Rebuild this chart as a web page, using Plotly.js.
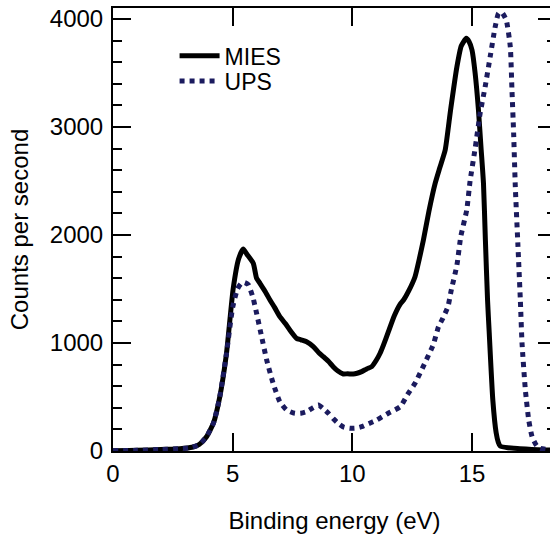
<!DOCTYPE html>
<html>
<head>
<meta charset="utf-8">
<script src="https://cdn.plot.ly/plotly-3.0.1.min.js"></script>
<style>
html, body { margin: 0; padding: 0; overflow: hidden; background: #fff; }
#chart { width: 600px; height: 537px; }
</style>
</head>
<body>
<div id="chart"></div>
<script>
// Binding energy (eV) and counts per second
const miesEnergy = [0, 1, 2, 2.8, 3.3, 3.6, 3.9, 4.2, 4.46, 4.74, 5.02, 5.25, 5.44, 5.6, 5.86, 6.0, 6.14, 6.35, 6.56, 6.75, 6.97, 7.2, 7.39, 7.67, 7.85, 8.09, 8.37, 8.6, 8.79, 9.0, 9.2, 9.4, 9.62, 9.8, 10.04, 10.2, 10.39, 10.6, 10.81, 11.0, 11.16, 11.3, 11.5, 11.75, 12.0, 12.14, 12.35, 12.62, 12.8, 12.97, 13.2, 13.46, 13.65, 13.88, 14.1, 14.37, 14.55, 14.76, 14.88, 15.0, 15.13, 15.27, 15.38, 15.48, 15.56, 15.65, 15.72, 15.87, 16.01, 16.1, 16.18, 16.5, 17.0, 17.5, 18.0, 18.6];
const miesCounts = [3, 6, 15, 22, 35, 60, 130, 260, 500, 900, 1500, 1780, 1870, 1820, 1738, 1600, 1553, 1480, 1398, 1330, 1244, 1180, 1120, 1043, 1030, 1012, 966, 910, 873, 830, 781, 740, 713, 715, 713, 720, 735, 760, 781, 840, 905, 980, 1100, 1250, 1360, 1398, 1480, 1614, 1780, 1954, 2220, 2478, 2620, 2787, 3150, 3558, 3750, 3821, 3790, 3713, 3500, 3157, 2800, 2478, 1950, 1398, 1093, 472, 167, 80, 45, 30, 22, 15, 10, 6];

const upsEnergy = [0, 1, 2, 2.8, 3.3, 3.6, 3.9, 4.2, 4.46, 4.74, 5.0, 5.2, 5.35, 5.5, 5.65, 5.85, 6.0, 6.21, 6.42, 6.69, 6.97, 7.25, 7.6, 7.85, 8.09, 8.35, 8.58, 8.8, 9.0, 9.2, 9.41, 9.65, 9.9, 10.15, 10.39, 10.7, 11.02, 11.5, 12.0, 12.3, 12.62, 13.0, 13.39, 13.6, 13.78, 14.0, 14.12, 14.37, 14.53, 14.78, 14.92, 15.13, 15.34, 15.55, 15.76, 15.97, 16.11, 16.25, 16.43, 16.6, 16.67, 16.74, 16.81, 16.92, 17.02, 17.09, 17.23, 17.37, 17.51, 17.7, 17.85, 18.2, 18.6];
const upsCounts = [3, 6, 14, 22, 33, 60, 130, 260, 500, 900, 1330, 1500, 1550, 1560, 1540, 1420, 1275, 1059, 843, 627, 457, 380, 349, 350, 364, 400, 426, 390, 349, 300, 256, 220, 210, 212, 225, 255, 287, 350, 410, 520, 627, 800, 990, 1150, 1228, 1340, 1475, 1722, 1984, 2231, 2500, 2800, 3127, 3373, 3651, 3929, 4053, 4060, 3991, 3744, 3343, 2941, 2447, 1900, 1398, 1000, 565, 287, 132, 50, 25, 12, 8];

const seriesNames = ['MIES', 'UPS'];
const xTickVals = [0, 5, 10, 15];
const yTickVals = [0, 1000, 2000, 3000, 4000];

const FONT = '"Liberation Sans", Arial, Helvetica, sans-serif';

const traces = [
  {
    x: miesEnergy, y: miesCounts, name: seriesNames[0], type: 'scatter', mode: 'lines',
    line: { color: '#000000', width: 5, shape: 'spline', smoothing: 0.5 },
    legend: 'legend'
  },
  {
    x: upsEnergy, y: upsCounts, name: seriesNames[1], type: 'scatter', mode: 'lines',
    line: { color: '#1b1b5e', width: 5, dash: 'dot', shape: 'spline', smoothing: 0.5 },
    legend: 'legend2'
  }
];

const axisCommon = {
  showline: true, linecolor: '#000', linewidth: 2, mirror: 'ticks',
  ticks: 'inside', ticklen: 18, tickwidth: 2, tickcolor: '#000',
  showgrid: false, zeroline: false,
  tickfont: { family: FONT, size: 24, color: '#000' }
};

const layout = {
  width: 600, height: 537,
  margin: { l: 113, r: 44, t: 8, b: 86 },
  paper_bgcolor: '#fff', plot_bgcolor: '#fff',
  font: { family: FONT, size: 24, color: '#000' },
  xaxis: Object.assign({}, axisCommon, {
    range: [0, 18.51], tickvals: xTickVals, ticktext: xTickVals.map(String),
    title: { text: 'Binding energy (eV)', font: { family: FONT, size: 24, color: '#000' }, standoff: 26 }
  }),
  yaxis: Object.assign({}, axisCommon, {
    range: [0, 4102], tickvals: yTickVals, ticktext: yTickVals.map(String),
    ticklabelstandoff: 3,
    minor: { ticks: 'inside', ticklen: 9, tickwidth: 2, tickcolor: '#000', dtick: 200 },
    title: { text: 'Counts per second', font: { family: FONT, size: 24, color: '#000' }, standoff: 14 }
  }),
  showlegend: true,
  legend: {
    x: 0.139, y: 0.892, xanchor: 'left', yanchor: 'middle',
    bgcolor: 'rgba(0,0,0,0)', borderwidth: 0, itemwidth: 40,
    font: { family: FONT, size: 23, color: '#000' }
  },
  legend2: {
    x: 0.139, y: 0.835, xanchor: 'left', yanchor: 'middle',
    bgcolor: 'rgba(0,0,0,0)', borderwidth: 0, itemwidth: 40,
    font: { family: FONT, size: 23, color: '#000' }
  }
};

Plotly.newPlot('chart', traces, layout, { displayModeBar: false, staticPlot: true });
</script>
</body>
</html>
